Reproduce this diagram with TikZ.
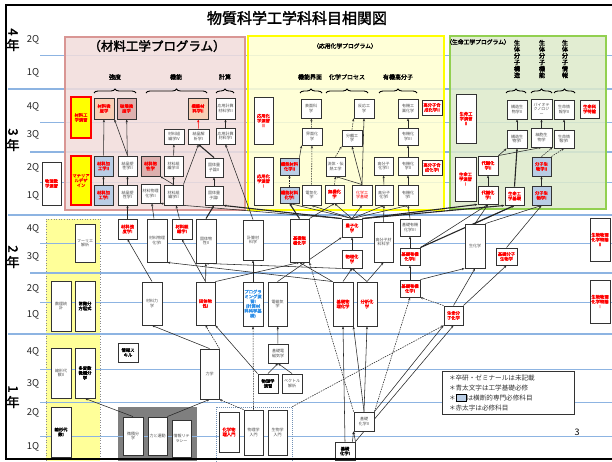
\documentclass[tikz,border=0pt]{standalone}
\usepackage{fontspec}
\setmainfont[AutoFakeBold=2]{Noto Sans CJK JP}
\usetikzlibrary{arrows.meta,decorations.pathreplacing,shadows}
\definecolor{qline}{HTML}{8DB4E2}
\definecolor{pinkfill}{HTML}{F2DCDB}
\definecolor{pinkedge}{HTML}{D99694}
\definecolor{yelfill}{HTML}{FFFFD0}
\definecolor{yeledge}{HTML}{FFFF00}
\definecolor{grnfill}{HTML}{DDEBCB}
\definecolor{grnedge}{HTML}{92D050}
\definecolor{bluebox}{HTML}{B9CDE5}
\definecolor{peach}{HTML}{F8CFB5}
\definecolor{dusty}{HTML}{DDB0AE}
\definecolor{bandyel}{HTML}{FFFF99}
\definecolor{bluetxt}{HTML}{2F8FE8}
\definecolor{grayblk}{HTML}{7F7F7F}
\pgfdeclarelayer{bg}\pgfdeclarelayer{mid}\pgfsetlayers{bg,mid,main}
\newcommand\crsbox[7][]{%
  \pgfmathsetmacro\bxcx{(#3+#5)/2}%
  \pgfmathsetmacro\bxcy{(#4+#6)/2}%
  \pgfmathsetmacro\bxw{#5-#3}%
  \pgfmathsetmacro\bxh{#6-#4}%
  \node[cbox,#1,minimum width=\bxw pt,minimum height=\bxh pt] (#2) at (\bxcx,\bxcy) {#7};}
\begin{document}
\begin{tikzpicture}[x=1pt,y=-1pt,
  cbox/.style={draw=black!80, line width=0.9pt, fill=white, inner sep=0.5pt, align=center, text=black!70, font=\fontsize{4}{4.6}\selectfont,
     drop shadow={shadow xshift=0.9pt, shadow yshift=-0.9pt, fill=black!45, opacity=0.6}},
  rd/.style={text=red, font=\fontsize{4.3}{4.8}\selectfont\bfseries},
  rdn/.style={text=red},
  bk/.style={text=black, font=\fontsize{4.3}{4.8}\selectfont\bfseries},
  bt/.style={text=bluetxt, font=\fontsize{4.3}{4.8}\selectfont\bfseries},
  blf/.style={fill=bluebox},
  pcf/.style={fill=peach},
  dsf/.style={fill=dusty},
  ylw/.style={fill=yeledge, draw=red, line width=1.5pt},
  arw/.style={-{Stealth[length=2.8pt,width=2.2pt]}, line width=0.55pt, black!85},
  darw/.style={arw, dash pattern=on 1.5pt off 1pt},
  thk/.style={line width=1.1pt},
  brc/.style={decorate, decoration={brace, amplitude=4pt}, line width=0.9pt},
  cat/.style={font=\fontsize{6}{7}\selectfont\bfseries, inner sep=0pt},
  vlab/.style={font=\fontsize{6.2}{6.5}\selectfont\bfseries, align=center, inner sep=0pt},
  ql/.style={font=\fontsize{9.5}{10}\selectfont, text=black!85, inner sep=0pt},
  yr/.style={font=\fontsize{13}{13}\selectfont\bfseries, inner sep=0pt}]
\useasboundingbox (0,0) rectangle (612,461);
\begin{pgfonlayer}{bg}
  \fill[white] (0,0) rectangle (612,461);
  \fill[bandyel] (46,219) rectangle (100,461);
  \draw[black!45, dotted, line width=0.6pt] (46,461) -- (46,219) -- (100,219) -- (100,461);
  \fill[grayblk] (118,407) rectangle (197,461);
  \foreach \yy in {55,122,182,243,302,369,402,436} \draw[qline, line width=0.7pt] (40,\yy) -- (612,\yy);
  \foreach \yy in {152,273} \draw[qline, line width=1.2pt] (30,\yy) -- (612,\yy);
  \foreach \yy in {89,215,334} \draw[qline, line width=1.6pt] (8,\yy) -- (612,\yy);
  \draw[pinkedge, line width=1.5pt, fill=pinkfill, fill opacity=0.85] (65,37) rectangle (245,210);
  \draw[yeledge, line width=2pt, fill=yelfill, fill opacity=0.85] (248,36) rectangle (444,210);
  \draw[grnedge, line width=1.5pt, fill=grnfill, fill opacity=0.85] (450,36) rectangle (606,209);
  \node[draw=qline!80!black, dash pattern=on 1pt off 1pt, line width=0.6pt, minimum width=76pt, minimum height=56pt, inner sep=0pt] (dbox) at (254,435) {};
\end{pgfonlayer}

% title, year and quarter labels
\node[font=\fontsize{15}{15}\selectfont\bfseries] (title) at (297,18) {物質科学工学科科目相関図};
\node[yr] (y4a) at (13,32) {\rotatebox{-90}{4}};
\node[yr] (y4b) at (13,45) {年};
\node[yr] (y3a) at (13,132) {\rotatebox{-90}{3}};
\node[yr] (y3b) at (13,145) {年};
\node[yr] (y2a) at (13,249) {\rotatebox{-90}{2}};
\node[yr] (y2b) at (13,262) {年};
\node[yr] (y1a) at (13,389) {\rotatebox{-90}{1}};
\node[yr] (y1b) at (13,402) {年};
\node[ql] (q42) at (33,40) {2Q};
\node[ql] (q41) at (33,73) {1Q};
\node[ql] (q34) at (33,107) {4Q};
\node[ql] (q33) at (33,135) {3Q};
\node[ql] (q32) at (33,168) {2Q};
\node[ql] (q31) at (33,196) {1Q};
\node[ql] (q24) at (33,229) {4Q};
\node[ql] (q23) at (33,257) {3Q};
\node[ql] (q22) at (33,289) {2Q};
\node[ql] (q21) at (33,315) {1Q};
\node[ql] (q14) at (33,352) {4Q};
\node[ql] (q13) at (33,384) {3Q};
\node[ql] (q12) at (33,413) {2Q};
\node[ql] (q11) at (33,447) {1Q};

% program titles and categories
\node[font=\fontsize{12.5}{13}\selectfont\bfseries, inner sep=0pt] (ptm) at (157,46) {（材料工学プログラム）};
\node[font=\fontsize{5.8}{6}\selectfont\bfseries, inner sep=0pt] (pta) at (345,46) {（応用化学プログラム）};
\node[font=\fontsize{5.8}{6}\selectfont\bfseries, inner sep=0pt] (ptg) at (478,42) {（生命工学プログラム）};
\node[cat] (c1) at (115,77) {強度};
\node[cat] (c2) at (176,77) {機能};
\node[cat] (c3) at (225,77) {計算};
\node[cat] (c4) at (310,77) {機能界面};
\node[cat] (c5) at (347,77) {化学プロセス};
\node[cat] (c6) at (398,77) {有機高分子};
\node[vlab] (v1) at (517,59) {生\\体\\分\\子\\構\\造};
\node[vlab] (v2) at (542,59) {生\\体\\分\\子\\機\\能};
\node[vlab] (v3) at (565,59) {生\\体\\分\\子\\情\\報};
\draw[brc] (94,93) -- (136,93);
\draw[brc] (146,93) -- (207,93);
\draw[brc] (216,93) -- (234,93);
\draw[brc] (300,93) -- (322,93);
\draw[brc] (326,93) -- (368,93);
\draw[brc] (379,93) -- (417,93);
\draw[brc] (506,93) -- (526,93);
\draw[brc] (531,93) -- (552,93);
\draw[brc] (554,93) -- (575,93);

% materials program
\crsbox[ylw,rd]{mE}{71}{97}{91}{138}{材料工\\学演習}
\crsbox[ylw,rd]{mD}{71}{156}{91}{205}{マテリア\\ルデザ\\イン}
\crsbox[rd,pcf]{pA}{94}{98}{114}{119}{材料強\\度学}
\crsbox[rd,dsf]{pB}{117}{98}{136}{119}{破壊強\\度学}
\crsbox[rd,pcf]{pC}{188}{98}{208}{119}{機能材\\料学II}
\crsbox{pD}{216}{98}{235}{119}{応用計算\\材料学II}
\crsbox{pE}{164}{129}{184}{144}{材料組\\織学IV}
\crsbox{pF}{188}{129}{209}{144}{結晶解\\析学I}
\crsbox{pG}{216}{128}{235}{144}{応用計算\\材料学I}
\crsbox[rd,blf]{pH}{94}{156}{113}{176}{材料加\\工学II}
\crsbox{pI}{118}{156}{137}{176}{結晶塑\\性学II}
\crsbox[rd,dsf]{pJ}{141}{156}{160}{176}{材料物\\性学}
\crsbox{pK}{164}{156}{183}{176}{材料組\\織学III}
\crsbox{pL}{205}{158}{223}{177}{固体量\\子論II}
\crsbox[rd,blf]{pM}{94}{185}{113}{205}{材料加\\工学I}
\crsbox{pN}{118}{185}{137}{205}{結晶塑\\性学I}
\crsbox{pO}{141}{184}{160}{203}{材料物理\\化学II}
\crsbox{pP}{164}{185}{183}{205}{材料組\\織学II}
\crsbox{pQ}{205}{186}{223}{205}{固体量\\子論I}
\crsbox[rd]{sE}{42}{162}{61}{205}{物理数\\学演習}

% applied chemistry program
\crsbox[rd]{aE2}{254}{97}{273}{144}{応用化\\学演習\\II}
\crsbox[rd]{aE1}{254}{157}{273}{205}{応用化\\学演習\\I}
\crsbox{yA}{301}{99}{321}{118}{表面科\\学}
\crsbox{yB}{354}{99}{374}{118}{反応工\\学}
\crsbox{yC}{398}{99}{418}{118}{有機工\\業化学}
\crsbox[rd]{yD}{422}{100}{442}{115}{高分子合\\成化学II}
\crsbox{yE}{302}{128}{322}{145}{界面化\\学}
\crsbox{yF}{342}{130}{362}{146}{分離工\\学}
\crsbox{yG}{398}{128}{418}{145}{有機化\\学III}
\crsbox[rd,blf]{yH}{280}{158}{299}{175}{機能材料\\化学II}
\crsbox{yI}{326}{157}{345}{176}{流体・伝\\熱工学}
\crsbox{yJ}{374}{157}{393}{175}{高分子\\化学II}
\crsbox{yK}{398}{157}{418}{175}{有機化\\学II}
\crsbox[rd]{yL}{422}{160}{442}{175}{高分子合\\成化学I}
\crsbox[rd,blf]{yM}{280}{187}{299}{203}{機能材料\\化学I}
\crsbox{yN}{302}{185}{321}{205}{電気化\\学}
\crsbox[rd]{yO}{325}{185}{344}{203}{無機化\\学}
\crsbox[rdn]{yP}{352}{185}{372}{205}{化学工\\学基礎}
\crsbox{yQ}{375}{185}{393}{205}{高分子\\化学I}
\crsbox{yR}{398}{185}{418}{205}{有機化\\学I}

% life engineering program
\crsbox[rd]{gE2}{456}{94}{476}{143}{生命工\\学演習\\II}
\crsbox{gA}{507}{100}{527}{119}{構造生\\物学II}
\crsbox{gB}{531}{99}{552}{119}{バイオテ\\クノロジ\\ー}
\crsbox{gC}{554}{100}{574}{119}{生命情\\報学II}
\crsbox[rd]{gD}{580}{100}{599}{118}{生命科\\学特論}
\crsbox{gF}{507}{130}{527}{148}{構造生\\物学I}
\crsbox{gG}{531}{128}{552}{147}{細胞生\\物学}
\crsbox{gH}{554}{130}{574}{148}{生命情\\報学I}
\crsbox[rd]{gE1}{455}{157}{476}{201}{生命工\\学演習\\I}
\crsbox[rd]{gI}{478}{156}{498}{175}{代謝化\\学II}
\crsbox[rd,blf]{gJ}{532}{157}{551}{176}{分子生\\物学II}
\crsbox[rd]{gK}{478}{186}{498}{204}{代謝化\\学I}
\crsbox[rd]{gL}{505}{187}{524}{205}{生命工\\学基礎}
\crsbox[rd,blf]{gM}{532}{186}{551}{205}{分子生\\物学I}

% second year
\crsbox[rd]{tA}{118}{219}{137}{239}{材料強\\度学I}
\crsbox{tB}{147}{219}{167}{262}{材料物理\\化学I}
\crsbox[rd]{tC}{172}{219}{192}{239}{材料組\\織学I}
\crsbox{tD}{196}{219}{216}{263}{固体物\\性II}
\crsbox{tE}{243}{220}{263}{260}{計算材\\料学}
\crsbox[rd]{tF}{290}{219}{309}{262}{基礎無\\機化学}
\crsbox[rd]{tG}{342}{219}{362}{237}{量子化\\学}
\crsbox{tH}{374}{222}{393}{262}{高分子材\\料科学}
\crsbox{tI}{400}{219}{420}{236}{基礎有機\\化学III}
\crsbox[rd]{tJ}{342}{250}{362}{268}{物理化\\学}
\crsbox[rd]{tK}{400}{248}{420}{265}{基礎有機\\化学II}
\crsbox{tL}{465}{224}{485}{268}{生化学}
\crsbox[rd]{tM}{496}{248}{517}{265}{基礎分子\\生物学}
\crsbox[rd]{tN}{590}{218}{610}{261}{生物物理\\化学特論\\II}
\crsbox{tO}{75}{224}{95}{262}{フーリエ\\解析}
\crsbox{tP}{51}{281}{71}{331}{数理統\\計}
\crsbox[bk]{tQ}{75}{281}{95}{331}{常微分\\方程式}
\crsbox{tR}{142}{282}{162}{325}{材料力\\学}
\crsbox[rd]{tS}{196}{282}{215}{325}{固体物\\性I}
\crsbox[bt]{tT}{243}{282}{263}{326}{プログラ\\ミング演\\習I\\(計算材\\料科学基\\礎)}
\crsbox{tU}{268}{282}{287}{326}{電磁気\\学}
\crsbox[rd]{tV}{333}{282}{353}{326}{基礎物\\理化学}
\crsbox[rd]{tW}{357}{282}{377}{326}{分析化\\学}
\crsbox[rd]{tX}{400}{280}{420}{297}{基礎有機\\化学I}
\crsbox[rd]{tY}{444}{306}{463}{325}{生命分\\子化学}
\crsbox[rd]{tZ}{590}{280}{610}{323}{生物物理\\化学特論\\I}

% first year
\crsbox[bk]{fA}{118}{343}{138}{362}{情報ス\\キル}
\crsbox{fB}{51}{348}{71}{398}{線形代\\数II}
\crsbox[bk]{fC}{75}{348}{95}{398}{多変数\\微積分\\学}
\crsbox[bk]{fD}{51}{407}{71}{457}{線形代\\数I}
\crsbox{fE}{200}{349}{219}{399}{力学}
\crsbox{fF}{268}{344}{288}{363}{基礎電\\磁気学}
\crsbox[bk]{fG}{258}{374}{278}{393}{物理学\\演習}
\crsbox{fH}{282}{374}{302}{393}{ベクトル\\解析}
\crsbox{fI}{354}{412}{374}{431}{基礎\\化学II}
\crsbox[bk]{fJ}{335}{442}{355}{460}{基礎\\化学I}
\crsbox{fK}{123}{417}{143}{455}{微積分\\学}
\crsbox{fL}{148}{417}{167}{455}{力と運動}
\crsbox{fM}{172}{420}{191}{457}{情報リテ\\ラシー}
\crsbox[rd]{fN}{219}{412}{239}{452}{化学物\\理入門}
\crsbox{fO}{244}{410}{263}{455}{物理学\\入門}
\crsbox{fP}{268}{410}{287}{455}{生物学\\入門}

% legend and page number
\node[draw=black!80, line width=0.8pt, fill=white, align=left, text width=118pt, inner xsep=7pt, inner ysep=3pt, font=\fontsize{6.6}{10.3}\selectfont, text=black!80] (leg) at (508,393)
 {＊卒研・ゼミナールは未記載\\＊青太文字は工学基礎必修\\＊{\fboxsep=0.6pt\fcolorbox{black}{bluebox}{\rule{0pt}{5.5pt}\hspace*{9pt}}}は横断的専門必修科目\\＊赤太字は必修科目};
\node[font=\fontsize{9}{10}\selectfont] (pg) at (577,432) {3};

\begin{pgfonlayer}{mid}
% materials
\draw[arw] (pM) -- (pH);
\draw[arw] (pH) -- (pA);
\draw[arw] (pN) -- (pI);
\draw[arw] (pI) -- (pB);
\draw[arw] (pI.north) -- (pA.south east);
\draw[arw] (pP) -- (pK);
\draw[arw] (pK) -- (pE);
\draw[arw] (pP.north) -- (pJ.south east);
\draw[arw] (pP.north east) -- (pF.south);
\draw[arw, red] (pF) -- (pC);
\draw[arw, thk] (pL.north) -- (pF.south);
\draw[arw] (pQ) -- (pL);
\draw[arw] (pG) -- (pD);
% second year to third year
\draw[arw] (tA) -- (pN);
\draw[arw] (tB) -- (pO);
\draw[arw] (tC) -- (pP);
\draw[arw, thk] (tD.north) -- (pQ.south);
\draw[arw] (tE.north) -- (pG.south);
\draw[arw] (tG.north west) -- (pO.south east);
\draw[arw, thk] (tG.north west) -- (pQ.south east);
\foreach \t in {yM,yN,yO,yP,yQ,yR} \draw[arw] (tG.north) -- (\t.south);
\draw[arw, thk] (tG.north east) -- (gK.south west);
\draw[arw, thk] (tG.north east) -- (gL.south west);
\draw[arw, thk] (tF.north) -- (yM.south);
\draw[arw] (tF.north east) -- (yO.south);
\draw[arw] (tH.north) -- (yQ.south);
\draw[arw] (tI.north) -- (yR.south);
% second year internal
\draw[arw] (tR.north) -- (tA.south);
\draw[arw] (tS.north) -- (tC.south);
\draw[arw] (tS) -- (tD);
\draw[arw] (tT) -- (tE);
\draw[arw] (tS.north east) -- (tF.south);
\draw[arw] (tV.north west) -- (tB.south east);
\draw[arw] (tJ.south west) -- (tD.south);
\draw[arw] (tU.north) -- (tG.south west);
\draw[arw] (tJ) -- (tG);
\draw[arw] (tV.north) -- (tJ.south);
\draw[arw] (tW.north) -- (tJ.south);
\draw[arw] (tV.north west) -- (tF.south);
\draw[arw] (tW.north) -- (tH.south);
\draw[arw] (tX) -- (tK);
\draw[arw] (tK) -- (tI);
\draw[arw] (tY.north) -- (tL.south);
\draw[arw] (tY.north east) -- (tM.south);
\draw[darw] (tY.north west) -- (tX.south east);
\draw[arw] (tX.north east) -- (tL.south west);
% first year
\draw[arw] (fK.north) -- (fC.south);
\draw[arw] (fL.north east) -- (fE.south);
\draw[arw] (fE.north) -- (tR.south);
\draw[darw] (fE.north east) -- (tS.south);
\draw[arw] (fF) -- (tU);
\draw[arw] (fG.north) -- (fF.south);
\draw[arw] (fH.north) -- (fF.south);
\draw[arw] (fG.north west) -- (tS.south east);
\draw[darw] (fO.north) -- (tT.south);
\draw[darw] (fO.north west) -- (fE.south east);
\draw[arw] (fJ.north east) -- (fI.south west);
\draw[arw] ([xshift=-3pt]fJ.north east) -- (fI.south west);
\draw[arw] (fJ.north) -- (tV.south);
\draw[arw] (fI.north) -- (tV.south east);
\draw[arw] (fI.north) -- (tW.south);
\draw[darw] (fI.north west) -- (tF.south east);
\draw[darw] (fI.north east) -- (tX.south);
\draw[arw] (fI.north east) -- (tY.south west);
\draw[arw] (fJ.north east) -- (tY.south);
\draw[darw] (dbox.north east) -- (tY.south west);
% applied chemistry internal
\draw[darw] (yM) -- (yH);
\draw[arw] (yH.north east) -- (yE.south west);
\draw[darw] (yN) -- (yE);
\draw[darw] (yE) -- (yA);
\draw[darw] (yO.north) -- (yI.south);
\draw[arw] (yP.north) -- (yI.south);
\draw[arw] (yP.north) -- (yF.south);
\draw[arw] (yP.north) -- (yB.south);
\draw[darw] (yI.north) -- (yF.south west);
\draw[darw] (yF.north) -- (yB.south west);
\draw[arw] (yQ) -- (yJ);
\draw[arw] (yR) -- (yK);
\draw[arw] (yK) -- (yG);
\draw[arw] (yG) -- (yC);
% life engineering
\draw[arw] (tL.north) -- (gK.south);
\draw[arw] (tL.north) -- (gL.south);
\draw[arw] (tL.north east) -- (gM.south);
\draw[arw] (tM.north) -- (gM.south);
\draw[arw, thk] (tK.north east) -- (gL.south);
\draw[arw] (tK.north east) -- (gK.south);
\draw[arw] (gK) -- (gI);
\draw[arw] (gM) -- (gJ);
\draw[arw, thk] (gL.north) -- (gF.south);
\draw[arw] (gI.north east) -- (gF.south west);
\draw[arw] (gI.north east) -- (gG.south);
\draw[arw] (gF) -- (gA);
\draw[arw] (gG) -- (gB);
\draw[arw] (gH) -- (gC);
\draw[darw] (gJ.north) -- (gG.south east);
\draw[darw] (gJ.north east) -- (gH.south);
\end{pgfonlayer}

% outer frame
\draw[line width=2pt] (612,5) -- (6,5) -- (6,459) -- (612,459);
\end{tikzpicture}
\end{document}
